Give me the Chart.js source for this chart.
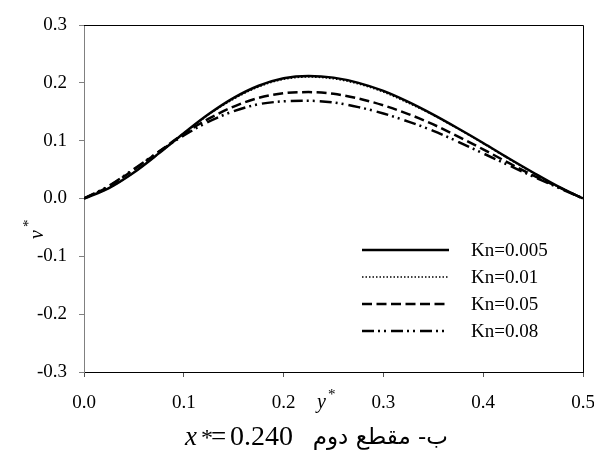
<!DOCTYPE html>
<html lang="fa">
<head>
    <meta charset="UTF-8">
    <title>v* profiles, x* = 0.240</title>
    <script src="https://cdn.jsdelivr.net/npm/chart.js"></script>
    <style>
        html, body {
            margin: 0;
            padding: 0;
            background: #ffffff;
        }
        .chart-box {
            width: 594px;
            height: 450px;
        }
    </style>
</head>
<body>
    <div class="chart-box">
        <canvas id="profileChart" width="594" height="450"></canvas>
    </div>

    <script>
        // y* positions across the channel
        const yStar = [0, 0.025, 0.05, 0.075, 0.1, 0.125, 0.15, 0.175, 0.2, 0.225, 0.25,
                       0.275, 0.3, 0.325, 0.35, 0.375, 0.4, 0.425, 0.45, 0.475, 0.5];

        // v* for each Knudsen number
        const vKn005 = [0, 0.018, 0.045, 0.078, 0.113, 0.146, 0.174, 0.195, 0.208, 0.212, 0.209,
                        0.200, 0.186, 0.167, 0.145, 0.121, 0.096, 0.070, 0.045, 0.021, 0];
        const vKn01  = [0, 0.018, 0.045, 0.078, 0.112, 0.145, 0.172, 0.193, 0.206, 0.210, 0.207,
                        0.198, 0.184, 0.165, 0.144, 0.120, 0.095, 0.069, 0.044, 0.020, 0];
        const vKn05  = [0, 0.021, 0.050, 0.081, 0.112, 0.138, 0.159, 0.174, 0.182, 0.184, 0.181,
                        0.173, 0.161, 0.146, 0.128, 0.107, 0.085, 0.062, 0.040, 0.020, 0];
        const vKn08  = [0, 0.022, 0.051, 0.081, 0.109, 0.133, 0.151, 0.163, 0.168, 0.169, 0.166,
                        0.158, 0.147, 0.133, 0.117, 0.098, 0.078, 0.058, 0.038, 0.019, 0];

        const seriesLabels = ['Kn=0.005', 'Kn=0.01', 'Kn=0.05', 'Kn=0.08'];

        const xTicks = [0, 0.1, 0.2, 0.3, 0.4, 0.5];
        const yTicks = [-0.3, -0.2, -0.1, 0, 0.1, 0.2, 0.3];

        const serif = '"Liberation Serif", "Times New Roman", serif';

        function toPoints(values) {
            return values.map((v, i) => ({ x: yStar[i], y: v }));
        }

        // frame, axis titles, caption and legend drawn on top
        const extras = {
            id: 'extras',
            afterDraw(chart) {
                const ctx = chart.ctx;
                const a = chart.chartArea;
                ctx.save();

                // top and right border
                ctx.strokeStyle = '#000';
                ctx.lineWidth = 1;
                ctx.beginPath();
                ctx.moveTo(a.left, a.top + 0.5);
                ctx.lineTo(a.right + 0.5, a.top + 0.5);
                ctx.lineTo(a.right + 0.5, a.bottom);
                ctx.stroke();

                ctx.fillStyle = '#000';

                // legend
                ctx.textBaseline = 'middle';
                ctx.textAlign = 'left';
                ctx.font = '19px ' + serif;
                const rows = [250, 277, 304, 331];
                chart.data.datasets.forEach((ds, i) => {
                    ctx.beginPath();
                    ctx.lineWidth = ds.borderWidth;
                    ctx.setLineDash(ds.borderDash || []);
                    ctx.moveTo(362, rows[i]);
                    ctx.lineTo(449, rows[i]);
                    ctx.stroke();
                    ctx.setLineDash([]);
                    ctx.fillText(ds.label, 471, rows[i] + 1);
                });

                // y axis title v*
                ctx.save();
                ctx.translate(43, 239);
                ctx.rotate(-Math.PI / 2);
                ctx.textBaseline = 'alphabetic';
                ctx.font = 'italic 20px ' + serif;
                ctx.fillText('v', 0, 0);
                const vw = ctx.measureText('v').width;
                ctx.font = '15px ' + serif;
                ctx.fillText('*', vw + 3, -10);
                ctx.restore();

                // x axis title y*
                ctx.textBaseline = 'alphabetic';
                ctx.font = 'italic 20px ' + serif;
                ctx.fillText('y', 317, 408);
                ctx.font = '15px ' + serif;
                ctx.fillText('*', 328, 399);

                // caption
                ctx.font = 'italic 27px ' + serif;
                ctx.fillText('x', 185, 445);
                ctx.font = '24px ' + serif;
                ctx.fillText('*', 201, 445);
                ctx.font = '27px ' + serif;
                ctx.fillText('=', 211, 445);
                ctx.font = '28px ' + serif;
                ctx.fillText('0.240', 230, 445);
                ctx.font = '23px "DejaVu Sans", sans-serif';
                ctx.textAlign = 'right';
                ctx.fillText('ب- مقطع دوم', 448, 444);

                ctx.restore();
            }
        };

        const ctx = document.getElementById('profileChart').getContext('2d');
        const profileChart = new Chart(ctx, {
            type: 'line',
            data: {
                datasets: [
                    {
                        label: seriesLabels[0],
                        data: toPoints(vKn005),
                        borderColor: '#000',
                        borderWidth: 2.5,
                        borderDash: [],
                    },
                    {
                        label: seriesLabels[1],
                        data: toPoints(vKn01),
                        borderColor: '#000',
                        borderWidth: 1.5,
                        borderDash: [1.5, 2],
                    },
                    {
                        label: seriesLabels[2],
                        data: toPoints(vKn05),
                        borderColor: '#000',
                        borderWidth: 2.5,
                        borderDash: [10, 4.5],
                    },
                    {
                        label: seriesLabels[3],
                        data: toPoints(vKn08),
                        borderColor: '#000',
                        borderWidth: 2.5,
                        borderDash: [12, 4, 2, 4, 2, 5],
                    },
                ]
            },
            options: {
                responsive: false,
                animation: false,
                events: [],
                elements: {
                    point: { radius: 0 },
                    line: { cubicInterpolationMode: 'monotone', fill: false },
                },
                layout: {
                    autoPadding: false,
                    padding: { top: 25, right: 11, bottom: 0, left: 0 },
                },
                plugins: {
                    legend: { display: false },
                    tooltip: { enabled: false },
                },
                scales: {
                    x: {
                        type: 'linear',
                        min: 0,
                        max: 0.5,
                        afterFit: s => {
                            s.height = 78;
                            s.paddingLeft = 0;
                            s.paddingRight = 0;
                        },
                        afterBuildTicks: s => { s.ticks = xTicks.map(v => ({ value: v })); },
                        border: { color: '#000', width: 1 },
                        grid: {
                            drawOnChartArea: false,
                            drawTicks: true,
                            tickLength: 5,
                            color: '#555',
                        },
                        ticks: {
                            color: '#000',
                            padding: 15,
                            maxRotation: 0,
                            font: { family: serif, size: 19 },
                            callback: v => v.toFixed(1),
                        },
                    },
                    y: {
                        type: 'linear',
                        min: -0.3,
                        max: 0.3,
                        afterFit: s => {
                            s.width = 84;
                            s.paddingTop = 0;
                            s.paddingBottom = 0;
                        },
                        afterBuildTicks: s => { s.ticks = yTicks.map(v => ({ value: v })); },
                        border: { color: '#808080', width: 1 },
                        grid: {
                            drawOnChartArea: false,
                            drawTicks: true,
                            tickLength: 5,
                            color: '#808080',
                        },
                        ticks: {
                            color: '#000',
                            padding: 12,
                            font: { family: serif, size: 19 },
                            callback: v => v.toFixed(1),
                        },
                    },
                },
            },
            plugins: [extras],
        });
    </script>
</body>
</html>
